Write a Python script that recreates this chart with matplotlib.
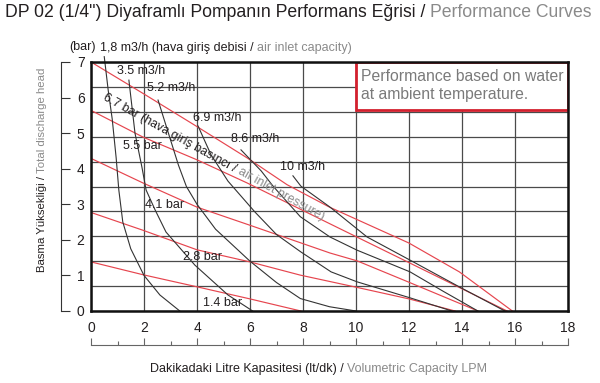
import numpy as np
import matplotlib
matplotlib.use('Agg')
import matplotlib.pyplot as plt
from matplotlib.ticker import MultipleLocator
from matplotlib.patches import Rectangle

plt.rcParams['font.family'] = ['Liberation Sans', 'DejaVu Sans']

BLACK = '#231f20'
GREY = '#8a8a8a'
RED = '#e6454e'
BOXRED = '#d3202e'

# hava giris basinci / air inlet pressure lines (bar)
p67_x = [0, 2.0, 3.9, 5.9, 7.4, 9.0, 12.0, 13.9, 15.9]
p67_y = [7.0, 6.1, 5.23, 4.3, 3.55, 2.92, 1.91, 1.1, 0]
p55_x = [0, 1.96, 4.0, 5.89, 9.02, 12.0, 15.7]
p55_y = [5.64, 4.89, 4.25, 3.6, 2.45, 1.36, 0]
p41_x = [0, 1.96, 4.0, 6.0, 9.02, 10.04, 11.96, 14.6]
p41_y = [4.29, 3.6, 2.92, 2.41, 1.63, 1.41, 0.82, 0]
p28_x = [0, 1.96, 4.0, 6.0, 7.89, 10.0, 12.0, 13.74]
p28_y = [2.77, 2.27, 1.72, 1.38, 1.01, 0.67, 0.34, 0]
p14_x = [0, 1.96, 4.0, 6.0, 7.92]
p14_y = [1.38, 1.02, 0.68, 0.34, 0]

# hava giris debisi / air inlet capacity curves (m3/h)
q18_x = [0.5, 0.65, 0.8, 0.95, 1.05, 1.2, 1.5, 2.0, 2.6, 3.35]
q18_y = [7.15, 6.2, 5.4, 4.3, 3.4, 2.5, 1.75, 1.0, 0.45, 0]
q35_x = [1.43, 1.66, 1.92, 2.08, 2.42, 2.83, 3.92, 5.17, 6.1]
q35_y = [6.49, 5.0, 4.05, 3.4, 2.84, 2.22, 1.29, 0.45, 0]
q52_x = [2.53, 2.9, 3.3, 3.6, 4.0, 4.7, 6.0, 7.0, 7.9, 9.0, 10.0]
q52_y = [5.93, 5.05, 4.1, 3.5, 3.0, 2.3, 1.4, 0.8, 0.35, 0.12, 0]
q69_x = [4.04, 4.53, 5.17, 6.19, 7.0, 7.92, 9.06, 10.04, 12.04, 13.62]
q69_y = [5.2, 4.39, 3.65, 2.78, 2.15, 1.66, 1.1, 0.82, 0.37, 0]
q86_x = [5.66, 6.42, 6.87, 7.9, 9.02, 10.04, 12.04, 13.3, 14.6]
q86_y = [4.53, 3.94, 3.51, 2.65, 2.08, 1.71, 1.1, 0.55, 0]
q10_x = [7.62, 7.92, 9.02, 10.42, 12.04, 13.92, 15.62]
q10_y = [3.8, 3.51, 2.92, 2.08, 1.43, 0.67, 0]

pressure_lines = [(p67_x, p67_y), (p55_x, p55_y), (p41_x, p41_y),
                  (p28_x, p28_y), (p14_x, p14_y)]
air_curves = [(q18_x, q18_y), (q35_x, q35_y), (q52_x, q52_y),
              (q69_x, q69_y), (q86_x, q86_y), (q10_x, q10_y)]

# labels on the curves
curve_labels = ['3.5 m3/h', '5.2 m3/h', '6.9 m3/h', '8.6 m3/h', '10 m3/h',
                '5.5 bar', '4.1 bar', '2.8 bar', '1.4 bar']
label_x = [0.98, 2.11, 3.85, 5.28, 7.13, 1.21, 2.04, 3.47, 4.23]
label_y = [6.75, 6.27, 5.43, 4.84, 4.05, 4.64, 2.98, 1.52, 0.22]

fig = plt.figure(figsize=(6, 3.83), dpi=100)
L, B, W, H = 91 / 600, 1 - 311 / 383, 477 / 600, 249 / 383

# tick scales (drawn apart from the plot frame)
ax2 = fig.add_axes([L, B, W, H], facecolor='none')
ax2.set_xlim(0, 18)
ax2.set_ylim(0, 7)
ax2.spines['top'].set_visible(False)
ax2.spines['right'].set_visible(False)
ax2.spines['left'].set_position(('outward', 30 * 0.72))
ax2.spines['bottom'].set_position(('outward', 34 * 0.72))
ax2.spines['left'].set_color('#333333')
ax2.spines['bottom'].set_color('#666666')
ax2.xaxis.set_major_locator(MultipleLocator(2))
ax2.xaxis.set_minor_locator(MultipleLocator(1))
ax2.yaxis.set_major_locator(MultipleLocator(1))
ax2.tick_params(axis='y', direction='in', length=6.5, width=0.8, pad=-17,
                labelsize=10, colors='#333333', labelcolor=BLACK)
ax2.tick_params(axis='x', which='major', direction='in', length=5, width=0.8,
                pad=-17, labelsize=10, colors='#666666', labelcolor=BLACK)
ax2.tick_params(axis='x', which='minor', direction='in', length=3, width=0.8,
                colors='#666666')

ax = fig.add_axes([L, B, W, H])
ax.set_xlim(0, 18)
ax.set_ylim(0, 7)
ax.set_xticks(np.arange(0, 19, 2))
ax.set_yticks(np.linspace(0, 7, 11))
ax.grid(True, color='#4a4a4a', lw=0.9)
ax.tick_params(length=0, labelbottom=False, labelleft=False)
for s in ax.spines.values():
    s.set_linewidth(1.8)
    s.set_color('#111111')
    s.set_zorder(6)

for x, y in pressure_lines:
    ax.plot(x, y, color=RED, lw=0.85, zorder=3)
for i, (x, y) in enumerate(air_curves):
    ax.plot(x, y, color='#333333', lw=0.8, zorder=3, clip_on=(i != 0))

for t, x, y in zip(curve_labels, label_x, label_y):
    ax.text(x, y, t, fontsize=9, color=BLACK, va='center', ha='left', zorder=4)

# rotated pressure label along the 6.7 bar line
ang = -29
p1 = '6.7 bar (hava giriş basıncı / '
p2 = 'air inlet pressure)'
x0, y0 = 0.53, 6.07
ax.text(x0, y0, p1, fontsize=8.9, color=BLACK, rotation=ang, rotation_mode='anchor',
        ha='left', va='center_baseline', zorder=4)
r = fig.canvas.get_renderer()
tmp = ax.text(0, 0, p1, fontsize=8.9)
w = tmp.get_window_extent(r).width
tmp.remove()
d0 = ax.transData.transform((x0, y0))
d1 = d0 + w * np.array([np.cos(np.radians(ang)), np.sin(np.radians(ang))])
x1, y1 = ax.transData.inverted().transform(d1)
ax.text(x1, y1, p2, fontsize=8.9, color=GREY, rotation=ang, rotation_mode='anchor',
        ha='left', va='center_baseline', zorder=4)

# info box
ax.add_patch(Rectangle((0.556, 0.807), 0.444, 0.193, transform=ax.transAxes,
                       facecolor='white', edgecolor=BOXRED, lw=2, zorder=5))
ax.text(0.566, 0.94, 'Performance based on water', transform=ax.transAxes,
        fontsize=11.3, color='#7a7a7a', va='center', zorder=6)
ax.text(0.566, 0.868, 'at ambient temperature.', transform=ax.transAxes,
        fontsize=11.3, color='#7a7a7a', va='center', zorder=6)


def two_tone(x, y, a, b, size, rot=0):
    t = fig.text(x, y, a, fontsize=size, color=BLACK, rotation=rot,
                 ha='left' if rot == 0 else 'center', va='bottom')
    if rot == 0:
        ax.annotate(b, xy=(1, 0), xycoords=t, fontsize=size, color=GREY,
                    ha='left', va='bottom', annotation_clip=False)
    else:
        ax.annotate(b, xy=(0, 1), xycoords=t, fontsize=size, color=GREY,
                    rotation=rot, ha='left', va='bottom', annotation_clip=False)


two_tone(5 / 600, 1 - 21 / 383, 'DP 02 (1/4") Diyaframlı Pompanın Performans Eğrisi / ',
         'Performance Curves', 12.7)
fig.text(69 / 600, 1 - 47 / 383, '(bar)', fontsize=9, color=BLACK, va='center')
two_tone(100 / 600, 1 - 54 / 383, '1,8 m3/h (hava giriş debisi / ',
         'air inlet capacity)', 9)
two_tone(150 / 600, 1 - 375 / 383, 'Dakikadaki Litre Kapasitesi (lt/dk) / ',
         'Volumetric Capacity LPM', 9)
two_tone(42 / 600, 1 - 272 / 383, 'Basma Yüksekliği / ', 'Total discharge head', 8.2, rot=90)

fig.savefig('out.png', dpi=100)
